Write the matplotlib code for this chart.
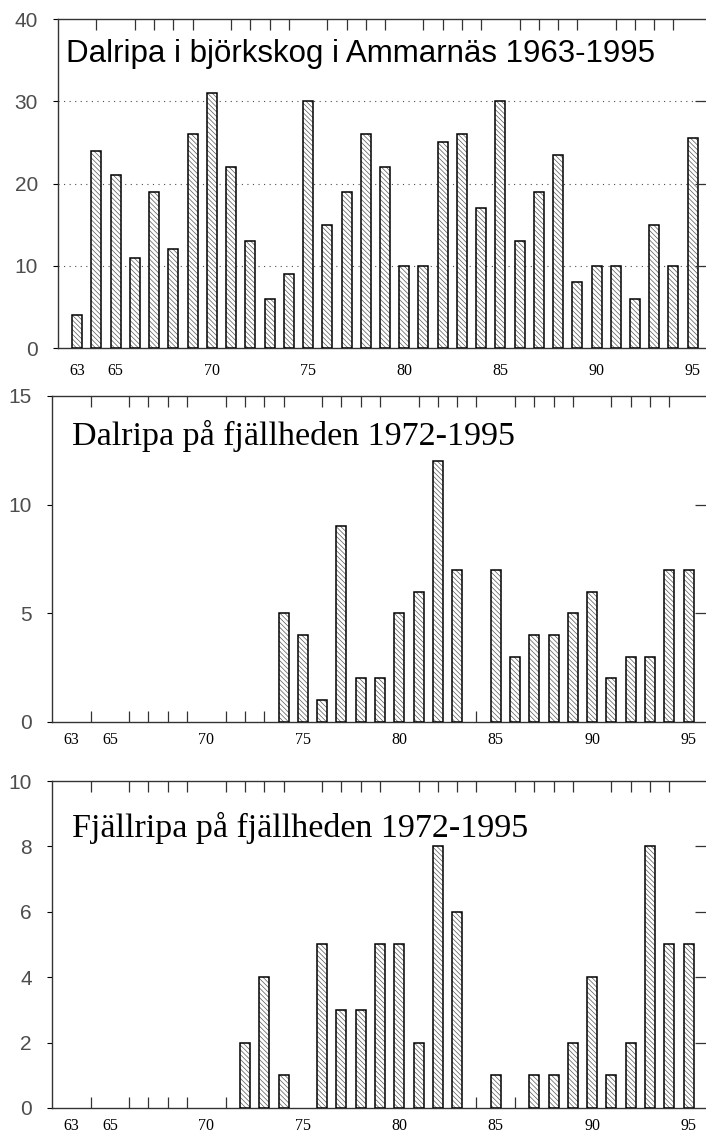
import matplotlib.pyplot as plt
import numpy as np

# data
years_a = list(range(1963, 1996))
dalripa_skog = [4, 24, 21, 11, 19, 12, 26, 31, 22, 13, 6, 9, 30, 15, 19,
                26, 22, 10, 10, 25, 26, 17, 30, 13, 19, 23.5, 8, 10, 10,
                6, 15, 10, 25.5]

years_b = list(range(1972, 1996))
dalripa_fjall = [0, 0, 5, 4, 1, 9, 2, 2, 5, 6, 12, 7, 0, 7, 3, 4, 4, 5, 6,
                 2, 3, 3, 7, 7]
fjallripa_fjall = [2, 4, 1, 0, 5, 3, 3, 5, 5, 2, 8, 6, 0, 1, 0, 1, 1, 2, 4,
                   1, 2, 8, 5, 5]

xlabel_years = [63, 65, 70, 75, 80, 85, 90, 95]
titles = ['Dalripa i björkskog i Ammarnäs 1963-1995',
          'Dalripa på fjällheden 1972-1995',
          'Fjällripa på fjällheden 1972-1995']

HATCH = '\\' * 7
plt.rcParams['hatch.linewidth'] = 0.5

fig = plt.figure(figsize=(7.06, 11.38), dpi=100)


def panel(rect, yrs, vals, ymax, yticks, rticks, xmax, bottom_ticks):
    ax = fig.add_axes(rect)
    x = np.array(yrs) - 1900
    v = np.array(vals, dtype=float)
    keep = v > 0
    ax.bar(x[keep], v[keep], width=0.52, facecolor='white', edgecolor='0.35',
           linewidth=0, hatch=HATCH, zorder=3)
    ax.bar(x[keep], v[keep], width=0.52, fill=False, edgecolor='black',
           linewidth=1.1, zorder=4)
    ax.set_xlim(62, xmax)
    ax.set_ylim(0, ymax)
    ax.spines['right'].set_visible(False)
    for s in ['left', 'top', 'bottom']:
        ax.spines[s].set_color('0.2')
        ax.spines[s].set_linewidth(1.0)
    ax.set_yticks(yticks)
    ax.set_yticklabels([str(t) for t in yticks], fontsize=15,
                       family='Liberation Sans', color='0.3')
    ax.tick_params(axis='y', left=False, pad=11)
    ax.set_xticks(xlabel_years)
    ax.set_xticklabels([str(t) for t in xlabel_years], fontsize=11.5,
                       family='Liberation Serif')
    ax.tick_params(axis='x', bottom=False, pad=4 if bottom_ticks else 7)
    # year ticks along top (and bottom) pointing inward
    ax.set_xticks(range(63, 96), minor=True)
    ax.tick_params(axis='x', which='minor', top=True, bottom=bottom_ticks,
                   direction='in', length=8, width=0.9, color='0.2')
    # right-side ticks
    axr = ax.twinx()
    axr.set_ylim(0, ymax)
    axr.set_yticks(rticks)
    axr.set_yticklabels([])
    axr.tick_params(axis='y', direction='in', length=8, width=0.9,
                    color='0.2')
    for s in axr.spines.values():
        s.set_visible(False)
    return ax


ax1 = panel([0.0822, 0.6942, 0.918, 0.2891], years_a, dalripa_skog, 40,
            [0, 10, 20, 30, 40], [10, 20, 30], 95.7, False)
for g in [10, 20, 30]:
    ax1.axhline(g, color='0.3', linewidth=0.8, linestyle=(0, (1, 4)),
                zorder=1)
ax1.text(0.012, 0.87, titles[0], transform=ax1.transAxes, fontsize=22.5,
         family='Liberation Sans', va='baseline', ha='left')

ax2 = panel([0.0737, 0.3656, 0.9263, 0.2865], years_b, dalripa_fjall, 15,
            [0, 5, 10, 15], [5, 10], 95.9, True)
ax2.text(0.03, 0.85, titles[1], transform=ax2.transAxes, fontsize=24.5,
         family='Liberation Serif', va='baseline', ha='left')

ax3 = panel([0.0737, 0.0264, 0.9263, 0.2873], years_b, fjallripa_fjall, 10,
            [0, 2, 4, 6, 8, 10], [2, 4, 6, 8], 95.9, True)
ax3.text(0.03, 0.83, titles[2], transform=ax3.transAxes, fontsize=24.5,
         family='Liberation Serif', va='baseline', ha='left')

fig.savefig('out.png', dpi=100)
